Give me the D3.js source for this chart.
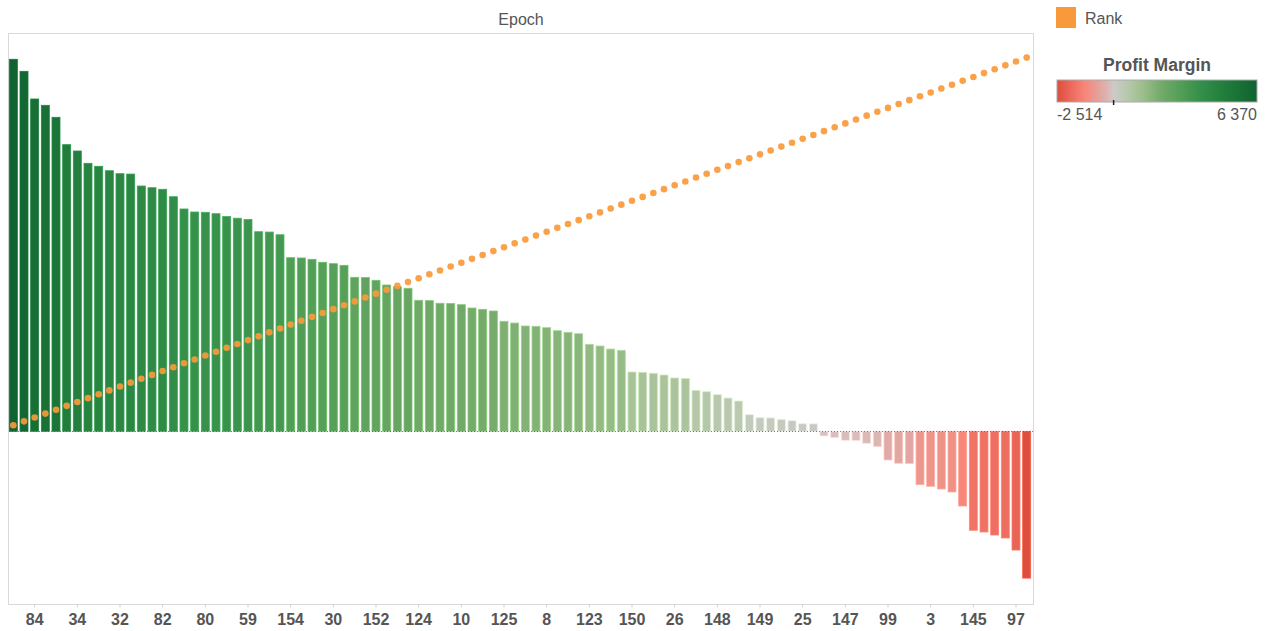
<!DOCTYPE html>
<html>
<head>
<meta charset="utf-8">
<script src="https://cdn.jsdelivr.net/npm/d3@7"></script>
<style>
  html, body { margin: 0; padding: 0; background: #fff; }
  svg { display: block; font-family: "Liberation Sans", Arial, sans-serif; }
</style>
</head>
<body>
<svg id="chart" width="1270" height="631"></svg>
<script>
// Profit margin per epoch, sorted from best to worst
const profit = [
  6370, 6164, 5690, 5582, 5377, 4908, 4800, 4589, 4538, 4462,
  4411, 4405, 4200, 4171, 4144, 4017, 3807, 3755, 3750, 3726,
  3678, 3649, 3627, 3418, 3412, 3366, 2973, 2968, 2945, 2894,
  2870, 2842, 2637, 2632, 2586, 2505, 2476, 2449, 2243, 2238,
  2192, 2188, 2168, 2111, 2089, 2060, 1884, 1854, 1803, 1798,
  1774, 1723, 1695, 1671, 1490, 1461, 1409, 1387, 1015, 1010,
  993, 964, 913, 905, 702, 678, 627, 570, 519, 284,
  233, 230, 205, 182, 130, 128, -80, -110, -154, -158,
  -205, -264, -491, -548, -552, -914, -942, -988, -1039, -1279,
  -1695, -1724, -1776, -1827, -2033, -2514
];

// Rank of each epoch by profit margin
const rank = [
  1, 2, 3, 4, 5, 6, 7, 8, 9, 10,
  11, 12, 13, 14, 15, 16, 17, 18, 19, 20,
  21, 22, 23, 24, 25, 26, 27, 28, 29, 30,
  31, 32, 33, 34, 35, 36, 37, 38, 39, 40,
  41, 42, 43, 44, 45, 46, 47, 48, 49, 50,
  51, 52, 53, 54, 55, 56, 57, 58, 59, 60,
  61, 62, 63, 64, 65, 66, 67, 68, 69, 70,
  71, 72, 73, 74, 75, 76, 77, 78, 79, 80,
  81, 82, 83, 84, 85, 86, 87, 88, 89, 90,
  91, 92, 93, 94, 95, 96
];

// Epoch labels shown on the (thinned) category axis; null = label hidden
const epoch = [
  null, null, "84", null, null, null, "34", null, null, null,
  "32", null, null, null, "82", null, null, null, "80", null,
  null, null, "59", null, null, null, "154", null, null, null,
  "30", null, null, null, "152", null, null, null, "124", null,
  null, null, "10", null, null, null, "125", null, null, null,
  "8", null, null, null, "123", null, null, null, "150", null,
  null, null, "26", null, null, null, "148", null, null, null,
  "149", null, null, null, "25", null, null, null, "147", null,
  null, null, "99", null, null, null, "3", null, null, null,
  "145", null, null, null, "97", null
];

const fmt = d3.formatLocale({ decimal: ",", thousands: "\u00a0", grouping: [3], currency: ["", ""], minus: "-" }).format(",d");

const svg = d3.select("#chart");
const plot = { left: 8.5, top: 33.5, right: 1033.5, bottom: 604.5 };

const x = d3.scaleBand()
  .domain(rank)
  .range([8, 1032])
  .paddingInner(0.25)
  .paddingOuter(0.125);

const y = d3.scaleLinear().domain([-2957, 6803]).range([604, 34]);
const yRank = d3.scaleLinear().domain([-45.2, 102.1]).range([604, 34]);

// Diverging red–grey–green colour ramp centred on zero
const posColor = d3.scaleLinear()
  .domain([0, 640, 1270, 2100, 2870, 3820, 5100, 6370])
  .range(["#cbcbc9", "#b7c8ab", "#9ebf8c", "#74aa6a", "#57a059", "#34904a", "#1f7a3a", "#0f6330"])
  .interpolate(d3.interpolateRgb);
const negColor = d3.scaleLinear()
  .domain([0, -100, -500, -950, -1280, -1800, -2514])
  .range(["#cfc7c6", "#d7c0be", "#e0aaa5", "#ee948a", "#f7867b", "#ee6e60", "#dc4e3d"])
  .interpolate(d3.interpolateRgb);
const color = v => v >= 0 ? posColor(v) : negColor(v);

const vMin = d3.min(profit), vMax = d3.max(profit);

// Title
svg.append("text")
  .attr("x", (plot.left + plot.right) / 2)
  .attr("y", 24.5)
  .attr("text-anchor", "middle")
  .attr("font-size", 16)
  .attr("fill", "#555")
  .text("Epoch");

// Pane frame
svg.append("rect")
  .attr("x", plot.left).attr("y", plot.top)
  .attr("width", plot.right - plot.left).attr("height", plot.bottom - plot.top)
  .attr("fill", "none").attr("stroke", "#d9d9d9").attr("stroke-width", 1);

const data = profit.map((v, i) => ({ v, r: rank[i], label: epoch[i] }));

// Bars
svg.append("g").selectAll("rect").data(data).join("rect")
  .attr("x", d => x(d.r))
  .attr("width", x.bandwidth())
  .attr("y", d => Math.min(y(d.v), y(0)))
  .attr("height", d => Math.abs(y(d.v) - y(0)))
  .attr("fill", d => color(d.v))
  .attr("stroke", d => d3.color(color(d.v)).brighter(0.5))
  .attr("stroke-width", 0.8);

// Zero reference
svg.append("line")
  .attr("x1", plot.left + 0.5).attr("x2", plot.right - 0.5)
  .attr("y1", Math.round(y(0)) + 0.5).attr("y2", Math.round(y(0)) + 0.5)
  .attr("stroke", "#555").attr("stroke-width", 1)
  .attr("stroke-dasharray", "1,2").attr("opacity", 0.75);

// Rank markers
svg.append("g").selectAll("circle").data(data).join("circle")
  .attr("cx", d => x(d.r) + x.bandwidth() / 2)
  .attr("cy", d => yRank(d.r))
  .attr("r", 3.3)
  .attr("fill", "#f89a3b")
  .attr("fill-opacity", 0.92);

// Category axis (only labelled epochs get a tick)
const tickRanks = data.filter(d => d.label !== null).map(d => d.r);
const labelByRank = new Map(data.map(d => [d.r, d.label]));
const xAxis = svg.append("g")
  .attr("transform", `translate(0,${plot.bottom})`)
  .call(d3.axisBottom(x).tickValues(tickRanks).tickFormat(r => labelByRank.get(r)).tickSize(3).tickPadding(6));
xAxis.select(".domain").remove();
xAxis.selectAll(".tick line").attr("stroke", "#d0d0d0");
xAxis.selectAll(".tick text")
  .attr("font-family", "'Liberation Sans', Arial, sans-serif")
  .attr("font-size", 16)
  .attr("font-weight", "bold")
  .attr("fill", "#555");

// Legend: Rank
const lg = svg.append("g");
lg.append("rect").attr("x", 1056).attr("y", 7).attr("width", 20).attr("height", 21).attr("fill", "#f89a3b");
lg.append("text").attr("x", 1085).attr("y", 24).attr("font-size", 16).attr("fill", "#555").text("Rank");

// Legend: Profit Margin colour ramp
lg.append("text")
  .attr("x", 1157).attr("y", 71)
  .attr("text-anchor", "middle")
  .attr("font-size", 17.5).attr("font-weight", "bold").attr("fill", "#555")
  .text("Profit Margin");

const grad = svg.append("defs").append("linearGradient").attr("id", "pm-grad");
const nStops = 60;
d3.range(nStops + 1).forEach(k => {
  const t = k / nStops;
  grad.append("stop").attr("offset", t).attr("stop-color", color(vMin + (vMax - vMin) * t));
});
const legX = d3.scaleLinear().domain([vMin, vMax]).range([1057, 1257]);
lg.append("rect")
  .attr("x", 1057).attr("y", 80).attr("width", 200).attr("height", 22)
  .attr("fill", "url(#pm-grad)").attr("stroke", "#aaa").attr("stroke-width", 1);
lg.append("line")
  .attr("x1", legX(0)).attr("x2", legX(0)).attr("y1", 100).attr("y2", 105)
  .attr("stroke", "#222").attr("stroke-width", 1.5);
lg.append("text").attr("x", 1057).attr("y", 120).attr("font-size", 16).attr("fill", "#555").text(fmt(vMin));
lg.append("text").attr("x", 1257).attr("y", 120).attr("text-anchor", "end").attr("font-size", 16).attr("fill", "#555").text(fmt(vMax));
</script>
</body>
</html>
